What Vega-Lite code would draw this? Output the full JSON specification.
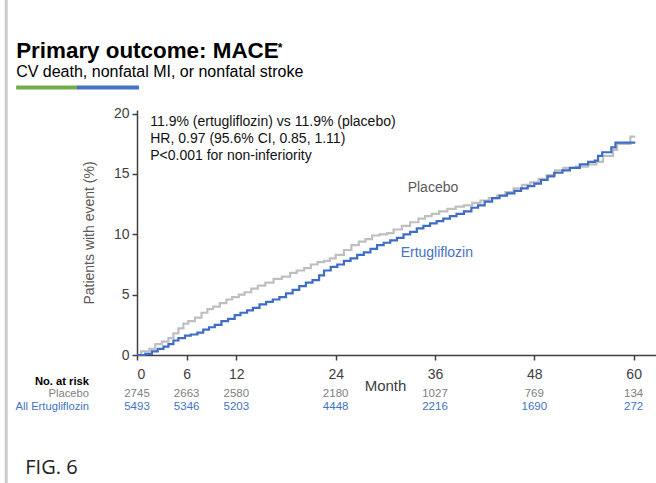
{
  "$schema": "https://vega.github.io/schema/vega-lite/v6.json",
  "autosize": {"type": "none"},
  "padding": {"left": 137, "top": 110, "right": 0, "bottom": 128},
  "width": 519,
  "height": 245,
  "background": "white",
  "config": {
    "view": {"stroke": null},
    "font": "Liberation Sans",
    "axis": {"labelFont": "Liberation Sans", "titleFont": "Liberation Sans"}
  },
  "datasets": {
    "km": [
      {"arm": "Placebo", "month": 0, "pct": 0},
      {"arm": "Placebo", "month": 0.5, "pct": 0.3},
      {"arm": "Placebo", "month": 1.5, "pct": 0.5},
      {"arm": "Placebo", "month": 2.2, "pct": 0.9},
      {"arm": "Placebo", "month": 3.0, "pct": 1.1},
      {"arm": "Placebo", "month": 3.8, "pct": 1.4},
      {"arm": "Placebo", "month": 4.4, "pct": 1.8},
      {"arm": "Placebo", "month": 5.0, "pct": 2.2},
      {"arm": "Placebo", "month": 5.6, "pct": 2.6},
      {"arm": "Placebo", "month": 6.2, "pct": 2.8},
      {"arm": "Placebo", "month": 7.0, "pct": 3.1},
      {"arm": "Placebo", "month": 7.8, "pct": 3.5},
      {"arm": "Placebo", "month": 8.5, "pct": 3.8},
      {"arm": "Placebo", "month": 9.2, "pct": 4.0},
      {"arm": "Placebo", "month": 10.0, "pct": 4.3},
      {"arm": "Placebo", "month": 10.8, "pct": 4.6},
      {"arm": "Placebo", "month": 11.5, "pct": 4.8},
      {"arm": "Placebo", "month": 12.3, "pct": 5.0},
      {"arm": "Placebo", "month": 13.0, "pct": 5.2},
      {"arm": "Placebo", "month": 13.8, "pct": 5.5},
      {"arm": "Placebo", "month": 14.6, "pct": 5.75},
      {"arm": "Placebo", "month": 15.5, "pct": 6.0},
      {"arm": "Placebo", "month": 16.5, "pct": 6.3},
      {"arm": "Placebo", "month": 17.5, "pct": 6.5},
      {"arm": "Placebo", "month": 18.5, "pct": 6.8},
      {"arm": "Placebo", "month": 19.3, "pct": 7.0},
      {"arm": "Placebo", "month": 20.2, "pct": 7.2},
      {"arm": "Placebo", "month": 21.0, "pct": 7.5},
      {"arm": "Placebo", "month": 21.8, "pct": 7.7},
      {"arm": "Placebo", "month": 22.6, "pct": 7.8},
      {"arm": "Placebo", "month": 23.3, "pct": 8.0},
      {"arm": "Placebo", "month": 24.0, "pct": 8.3},
      {"arm": "Placebo", "month": 25.0, "pct": 8.7},
      {"arm": "Placebo", "month": 25.9, "pct": 9.1},
      {"arm": "Placebo", "month": 26.8, "pct": 9.4},
      {"arm": "Placebo", "month": 27.6, "pct": 9.6},
      {"arm": "Placebo", "month": 28.4, "pct": 9.9},
      {"arm": "Placebo", "month": 29.3, "pct": 10.0},
      {"arm": "Placebo", "month": 30.2, "pct": 10.1},
      {"arm": "Placebo", "month": 31.0, "pct": 10.4},
      {"arm": "Placebo", "month": 32.0, "pct": 10.7},
      {"arm": "Placebo", "month": 33.0, "pct": 11.0},
      {"arm": "Placebo", "month": 34.0, "pct": 11.3},
      {"arm": "Placebo", "month": 34.8, "pct": 11.5},
      {"arm": "Placebo", "month": 35.6, "pct": 11.7},
      {"arm": "Placebo", "month": 36.5, "pct": 11.9},
      {"arm": "Placebo", "month": 37.5, "pct": 12.1},
      {"arm": "Placebo", "month": 38.5, "pct": 12.3},
      {"arm": "Placebo", "month": 39.5, "pct": 12.4},
      {"arm": "Placebo", "month": 40.5, "pct": 12.6},
      {"arm": "Placebo", "month": 41.5, "pct": 12.8},
      {"arm": "Placebo", "month": 42.5, "pct": 13.0},
      {"arm": "Placebo", "month": 43.5, "pct": 13.2},
      {"arm": "Placebo", "month": 44.5, "pct": 13.5},
      {"arm": "Placebo", "month": 45.5, "pct": 13.8},
      {"arm": "Placebo", "month": 46.5, "pct": 14.1},
      {"arm": "Placebo", "month": 47.5, "pct": 14.3},
      {"arm": "Placebo", "month": 48.5, "pct": 14.6},
      {"arm": "Placebo", "month": 49.5, "pct": 14.9},
      {"arm": "Placebo", "month": 50.5, "pct": 15.3},
      {"arm": "Placebo", "month": 51.5, "pct": 15.5},
      {"arm": "Placebo", "month": 53.0, "pct": 15.6},
      {"arm": "Placebo", "month": 54.5, "pct": 15.8},
      {"arm": "Placebo", "month": 55.5, "pct": 16.0},
      {"arm": "Placebo", "month": 56.3, "pct": 16.5},
      {"arm": "Placebo", "month": 57.5, "pct": 17.0},
      {"arm": "Placebo", "month": 58.0, "pct": 17.5},
      {"arm": "Placebo", "month": 59.6, "pct": 18.1},
      {"arm": "Placebo", "month": 60.2, "pct": 18.1},
      {"arm": "Ertugliflozin", "month": 0, "pct": 0},
      {"arm": "Ertugliflozin", "month": 1.0, "pct": 0.1},
      {"arm": "Ertugliflozin", "month": 1.8, "pct": 0.3},
      {"arm": "Ertugliflozin", "month": 2.5, "pct": 0.5},
      {"arm": "Ertugliflozin", "month": 3.2, "pct": 0.7},
      {"arm": "Ertugliflozin", "month": 3.8, "pct": 0.9},
      {"arm": "Ertugliflozin", "month": 4.4, "pct": 1.2},
      {"arm": "Ertugliflozin", "month": 5.0, "pct": 1.4},
      {"arm": "Ertugliflozin", "month": 5.8, "pct": 1.6},
      {"arm": "Ertugliflozin", "month": 6.5, "pct": 1.7},
      {"arm": "Ertugliflozin", "month": 7.3, "pct": 1.85},
      {"arm": "Ertugliflozin", "month": 8.0, "pct": 2.1},
      {"arm": "Ertugliflozin", "month": 8.7, "pct": 2.3},
      {"arm": "Ertugliflozin", "month": 9.4, "pct": 2.5},
      {"arm": "Ertugliflozin", "month": 10.2, "pct": 2.8},
      {"arm": "Ertugliflozin", "month": 11.0, "pct": 3.0},
      {"arm": "Ertugliflozin", "month": 11.8, "pct": 3.3},
      {"arm": "Ertugliflozin", "month": 12.5, "pct": 3.5},
      {"arm": "Ertugliflozin", "month": 13.3, "pct": 3.7},
      {"arm": "Ertugliflozin", "month": 14.0, "pct": 3.9},
      {"arm": "Ertugliflozin", "month": 14.8, "pct": 4.2},
      {"arm": "Ertugliflozin", "month": 15.6, "pct": 4.4},
      {"arm": "Ertugliflozin", "month": 16.4, "pct": 4.6},
      {"arm": "Ertugliflozin", "month": 17.2, "pct": 4.8},
      {"arm": "Ertugliflozin", "month": 18.0, "pct": 5.1},
      {"arm": "Ertugliflozin", "month": 18.8, "pct": 5.4},
      {"arm": "Ertugliflozin", "month": 19.6, "pct": 5.7},
      {"arm": "Ertugliflozin", "month": 20.4, "pct": 6.0},
      {"arm": "Ertugliflozin", "month": 21.2, "pct": 6.2},
      {"arm": "Ertugliflozin", "month": 22.0, "pct": 6.6},
      {"arm": "Ertugliflozin", "month": 22.6, "pct": 7.0},
      {"arm": "Ertugliflozin", "month": 23.4, "pct": 7.3},
      {"arm": "Ertugliflozin", "month": 24.2, "pct": 7.5},
      {"arm": "Ertugliflozin", "month": 25.0, "pct": 7.8},
      {"arm": "Ertugliflozin", "month": 25.8, "pct": 8.0},
      {"arm": "Ertugliflozin", "month": 26.6, "pct": 8.3},
      {"arm": "Ertugliflozin", "month": 27.4, "pct": 8.5},
      {"arm": "Ertugliflozin", "month": 28.2, "pct": 8.8},
      {"arm": "Ertugliflozin", "month": 29.0, "pct": 9.1},
      {"arm": "Ertugliflozin", "month": 29.8, "pct": 9.3},
      {"arm": "Ertugliflozin", "month": 30.6, "pct": 9.5},
      {"arm": "Ertugliflozin", "month": 31.4, "pct": 9.7},
      {"arm": "Ertugliflozin", "month": 32.2, "pct": 10.0},
      {"arm": "Ertugliflozin", "month": 33.0, "pct": 10.2},
      {"arm": "Ertugliflozin", "month": 33.8, "pct": 10.5},
      {"arm": "Ertugliflozin", "month": 34.6, "pct": 10.7},
      {"arm": "Ertugliflozin", "month": 35.4, "pct": 10.9},
      {"arm": "Ertugliflozin", "month": 36.2, "pct": 11.1},
      {"arm": "Ertugliflozin", "month": 37.0, "pct": 11.3},
      {"arm": "Ertugliflozin", "month": 37.8, "pct": 11.5},
      {"arm": "Ertugliflozin", "month": 38.6, "pct": 11.7},
      {"arm": "Ertugliflozin", "month": 39.5, "pct": 11.9},
      {"arm": "Ertugliflozin", "month": 40.4, "pct": 12.2},
      {"arm": "Ertugliflozin", "month": 41.2, "pct": 12.4},
      {"arm": "Ertugliflozin", "month": 42.0, "pct": 12.7},
      {"arm": "Ertugliflozin", "month": 42.9, "pct": 13.0},
      {"arm": "Ertugliflozin", "month": 43.8, "pct": 13.2},
      {"arm": "Ertugliflozin", "month": 44.7, "pct": 13.4},
      {"arm": "Ertugliflozin", "month": 45.6, "pct": 13.6},
      {"arm": "Ertugliflozin", "month": 46.4, "pct": 13.8},
      {"arm": "Ertugliflozin", "month": 47.2, "pct": 14.0},
      {"arm": "Ertugliflozin", "month": 48.0, "pct": 14.2},
      {"arm": "Ertugliflozin", "month": 48.8, "pct": 14.5},
      {"arm": "Ertugliflozin", "month": 49.6, "pct": 14.8},
      {"arm": "Ertugliflozin", "month": 50.4, "pct": 15.1},
      {"arm": "Ertugliflozin", "month": 51.4, "pct": 15.3},
      {"arm": "Ertugliflozin", "month": 52.3, "pct": 15.5},
      {"arm": "Ertugliflozin", "month": 53.5, "pct": 15.8},
      {"arm": "Ertugliflozin", "month": 54.5, "pct": 16.0},
      {"arm": "Ertugliflozin", "month": 55.3, "pct": 16.1},
      {"arm": "Ertugliflozin", "month": 55.7, "pct": 16.5},
      {"arm": "Ertugliflozin", "month": 56.2, "pct": 16.8},
      {"arm": "Ertugliflozin", "month": 57.3, "pct": 17.2},
      {"arm": "Ertugliflozin", "month": 57.8, "pct": 17.6},
      {"arm": "Ertugliflozin", "month": 60.2, "pct": 17.6}
    ],
    "risk": [
      {"arm": "Placebo", "month": 0, "n": 2745},
      {"arm": "Placebo", "month": 6, "n": 2663},
      {"arm": "Placebo", "month": 12, "n": 2580},
      {"arm": "Placebo", "month": 24, "n": 2180},
      {"arm": "Placebo", "month": 36, "n": 1027},
      {"arm": "Placebo", "month": 48, "n": 769},
      {"arm": "Placebo", "month": 60, "n": 134},
      {"arm": "Ertugliflozin", "month": 0, "n": 5493},
      {"arm": "Ertugliflozin", "month": 6, "n": 5346},
      {"arm": "Ertugliflozin", "month": 12, "n": 5203},
      {"arm": "Ertugliflozin", "month": 24, "n": 4448},
      {"arm": "Ertugliflozin", "month": 36, "n": 2216},
      {"arm": "Ertugliflozin", "month": 48, "n": 1690},
      {"arm": "Ertugliflozin", "month": 60, "n": 272}
    ],
    "one": [{}]
  },
  "data": {"name": "km"},
  "layer": [
    {
      "data": {"name": "one"},
      "mark": {"type": "rule", "stroke": "#CCCCCC", "strokeWidth": 3, "clip": false},
      "encoding": {
        "x": {"datum": -15.8, "type": "quantitative"},
        "y": {"datum": 30, "type": "quantitative"},
        "y2": {"datum": -11}
      }
    },
    {
      "data": {"name": "one"},
      "mark": {"type": "rule", "stroke": "#70AD47", "strokeWidth": 4, "clip": false},
      "encoding": {
        "x": {"datum": -14.6, "type": "quantitative"},
        "x2": {"datum": -7.25},
        "y": {"datum": 22.16, "type": "quantitative"}
      }
    },
    {
      "data": {"name": "one"},
      "mark": {"type": "rule", "stroke": "#4472C4", "strokeWidth": 4, "clip": false},
      "encoding": {
        "x": {"datum": -7.25, "type": "quantitative"},
        "x2": {"datum": 0.24},
        "y": {"datum": 22.16, "type": "quantitative"}
      }
    },
    {
      "transform": [{"filter": "datum.arm === 'Placebo'"}],
      "mark": {"type": "line", "interpolate": "step-after", "stroke": "#BFBFBF", "strokeWidth": 2.2},
      "encoding": {
        "x": {
          "field": "month",
          "type": "quantitative",
          "scale": {"domain": [0, 62.7], "nice": false},
          "axis": {
            "values": [0, 6, 12, 24, 36, 48, 60],
            "grid": false,
            "domainColor": "#404040",
            "domainWidth": 1.5,
            "tickColor": "#404040",
            "tickWidth": 1.5,
            "tickSize": 5,
            "labelFontSize": 14,
            "labelColor": "#404040",
            "labelPadding": 7,
            "title": "Month",
            "titleFontSize": 15,
            "titleFontWeight": "normal",
            "titleColor": "#404040",
            "titleX": 248,
            "titleY": 35,
            "titleBaseline": "alphabetic",
            "titleAnchor": "middle"
          }
        },
        "y": {
          "field": "pct",
          "type": "quantitative",
          "scale": {"domain": [0, 20.3], "nice": false},
          "axis": {
            "values": [0, 5, 10, 15, 20],
            "grid": false,
            "domainColor": "#404040",
            "domainWidth": 1.5,
            "tickColor": "#404040",
            "tickWidth": 1.5,
            "tickSize": 5,
            "labelFontSize": 14,
            "labelColor": "#404040",
            "labelPadding": 3,
            "title": "Patients with event (%)",
            "titleFontSize": 14,
            "titleFontWeight": "normal",
            "titleColor": "#595959",
            "titlePadding": 17
          }
        }
      }
    },
    {
      "transform": [{"filter": "datum.arm === 'Ertugliflozin'"}],
      "mark": {"type": "line", "interpolate": "step-after", "stroke": "#3F6CC6", "strokeWidth": 2.2},
      "encoding": {
        "x": {"field": "month", "type": "quantitative"},
        "y": {"field": "pct", "type": "quantitative"}
      }
    },
    {
      "data": {"name": "one"},
      "mark": {"type": "text", "text": "Primary outcome: MACE", "fontSize": 22.4, "fontWeight": "bold", "align": "left", "baseline": "alphabetic", "color": "#000000", "clip": false},
      "encoding": {
        "x": {"datum": -14.6, "type": "quantitative"},
        "y": {"datum": 24.6, "type": "quantitative"}
      }
    },
    {
      "data": {"name": "one"},
      "mark": {"type": "text", "text": "*", "fontSize": 12, "fontWeight": "bold", "align": "left", "baseline": "alphabetic", "color": "#000000", "clip": false},
      "encoding": {
        "x": {"datum": 17.0, "type": "quantitative"},
        "y": {"datum": 25.1, "type": "quantitative"}
      }
    },
    {
      "data": {"name": "one"},
      "mark": {"type": "text", "text": "CV death, nonfatal MI, or nonfatal stroke", "fontSize": 16, "align": "left", "baseline": "alphabetic", "color": "#000000", "clip": false},
      "encoding": {
        "x": {"datum": -14.6, "type": "quantitative"},
        "y": {"datum": 23.03, "type": "quantitative"}
      }
    },
    {
      "data": {"name": "one"},
      "mark": {"type": "text", "text": ["11.9% (ertugliflozin) vs 11.9% (placebo)", "HR, 0.97 (95.6% CI, 0.85, 1.11)", "P<0.001 for non-inferiority"], "lineHeight": 17, "fontSize": 14, "align": "left", "baseline": "alphabetic", "color": "#111111"},
      "encoding": {
        "x": {"datum": 1.6, "type": "quantitative"},
        "y": {"datum": 19.0, "type": "quantitative"}
      }
    },
    {
      "data": {"name": "one"},
      "mark": {"type": "text", "text": "Placebo", "fontSize": 14, "align": "left", "baseline": "alphabetic", "color": "#595959"},
      "encoding": {
        "x": {"datum": 32.7, "type": "quantitative"},
        "y": {"datum": 13.47, "type": "quantitative"}
      }
    },
    {
      "data": {"name": "one"},
      "mark": {"type": "text", "text": "Ertugliflozin", "fontSize": 14, "align": "left", "baseline": "alphabetic", "color": "#4472C4"},
      "encoding": {
        "x": {"datum": 31.85, "type": "quantitative"},
        "y": {"datum": 8.13, "type": "quantitative"}
      }
    },
    {
      "data": {"name": "one"},
      "mark": {"type": "text", "text": "No. at risk", "fontSize": 11.2, "fontWeight": "bold", "align": "right", "baseline": "alphabetic", "color": "#000000", "clip": false},
      "encoding": {
        "x": {"datum": -5.8, "type": "quantitative"},
        "y": {"datum": -2.5, "type": "quantitative"}
      }
    },
    {
      "data": {"name": "one"},
      "mark": {"type": "text", "text": "Placebo", "fontSize": 11.2, "align": "right", "baseline": "alphabetic", "color": "#808080", "clip": false},
      "encoding": {
        "x": {"datum": -5.8, "type": "quantitative"},
        "y": {"datum": -3.52, "type": "quantitative"}
      }
    },
    {
      "data": {"name": "one"},
      "mark": {"type": "text", "text": "All Ertugliflozin", "fontSize": 11.2, "align": "right", "baseline": "alphabetic", "color": "#4472C4", "clip": false},
      "encoding": {
        "x": {"datum": -5.8, "type": "quantitative"},
        "y": {"datum": -4.56, "type": "quantitative"}
      }
    },
    {
      "data": {"name": "risk"},
      "transform": [{"filter": "datum.arm === 'Placebo'"}],
      "mark": {"type": "text", "fontSize": 11.5, "align": "center", "baseline": "alphabetic", "color": "#808080", "clip": false},
      "encoding": {
        "x": {"field": "month", "type": "quantitative"},
        "y": {"datum": -3.52, "type": "quantitative"},
        "text": {"field": "n", "type": "nominal"}
      }
    },
    {
      "data": {"name": "risk"},
      "transform": [{"filter": "datum.arm === 'Ertugliflozin'"}],
      "mark": {"type": "text", "fontSize": 11.5, "align": "center", "baseline": "alphabetic", "color": "#4472C4", "clip": false},
      "encoding": {
        "x": {"field": "month", "type": "quantitative"},
        "y": {"datum": -4.56, "type": "quantitative"},
        "text": {"field": "n", "type": "nominal"}
      }
    },
    {
      "data": {"name": "one"},
      "mark": {"type": "text", "text": "FIG. 6", "font": "Open Sans", "fontSize": 20, "align": "left", "baseline": "alphabetic", "color": "#222222", "clip": false},
      "encoding": {
        "x": {"datum": -13.5, "type": "quantitative"},
        "y": {"datum": -9.88, "type": "quantitative"}
      }
    }
  ]
}
